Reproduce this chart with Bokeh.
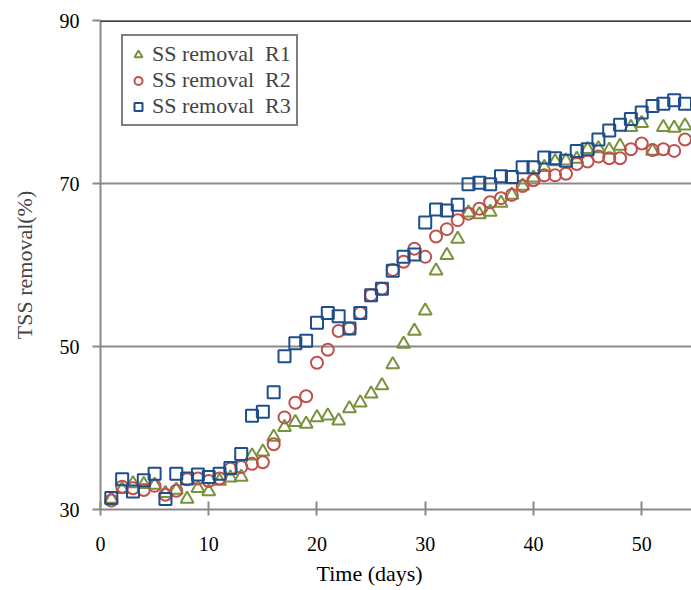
from bokeh.plotting import figure
from bokeh.models import Range1d, Legend, LegendItem, Title, Span, FixedTicker
from bokeh.embed import file_html
from bokeh.resources import INLINE

days = [1, 2, 3, 4, 5, 6, 7, 8, 9, 10, 11, 12, 13, 14, 15, 16, 17, 18, 19, 20,
        21, 22, 23, 24, 25, 26, 27, 28, 29, 30, 31, 32, 33, 34, 35, 36, 37, 38, 39, 40,
        41, 42, 43, 44, 45, 46, 47, 48, 49, 50, 51, 52, 53, 54]

r1 = [31.3, 32.5, 33.2, 33.1, 33.0, 32.0, 32.4, 31.3, 32.6, 32.2,
      33.5, 33.9, 34.0, 36.6, 37.1, 38.9, 40.1, 40.7, 40.5, 41.3,
      41.5, 40.9, 42.4, 43.1, 44.2, 45.2, 47.8, 50.3, 51.9, 54.4,
      59.3, 61.2, 63.2, 66.4, 66.2, 66.5, 67.6, 68.6, 69.7, 70.7,
      72.0, 72.7, 72.8, 73.0, 74.2, 74.3, 74.1, 74.6, 76.9, 77.4,
      74.0, 76.9, 76.8, 77.1]

r2 = [31.1, 32.8, 32.6, 32.4, 32.9, 31.8, 32.3, 33.7, 33.8, 33.5,
      33.8, 35.0, 35.2, 35.6, 35.8, 38.0, 41.3, 43.1, 43.9, 48.0,
      49.6, 51.9, 52.2, 54.1, 56.3, 57.1, 59.4, 60.4, 62.0, 61.0,
      63.5, 64.4, 65.5, 66.3, 66.9, 67.7, 68.2, 68.6, 69.7, 70.4,
      71.0, 71.0, 71.2, 72.4, 72.7, 73.3, 73.1, 73.1, 74.2, 74.9,
      74.1, 74.2, 74.0, 75.4]

r3 = [31.4, 33.7, 32.2, 33.6, 34.4, 31.3, 34.4, 33.8, 34.3, 34.0,
      34.4, 35.1, 36.8, 41.5, 42.0, 44.4, 48.8, 50.4, 50.7, 52.9,
      54.1, 53.7, 52.2, 54.1, 56.3, 57.1, 59.3, 61.0, 61.3, 65.2,
      66.8, 66.7, 67.4, 69.9, 70.1, 69.9, 70.9, 70.8, 72.0, 72.0,
      73.2, 73.1, 72.8, 74.0, 74.2, 75.4, 76.5, 77.2, 77.9, 78.7,
      79.5, 79.8, 80.2, 79.8]

series_names = ["SS removal  R1", "SS removal  R2", "SS removal  R3"]
x_ticks = [0, 10, 20, 30, 40, 50]
y_ticks = [30, 50, 70, 90]

FONT = "Liberation Serif"
GRID = "#898989"

p = figure(width=691, height=590, output_backend="svg", toolbar_location=None,
           x_range=Range1d(0, 54.6), y_range=Range1d(30, 90),
           min_border_left=100, min_border_right=0, min_border_top=20,
           min_border_bottom=79)
p.outline_line_color = None
p.background_fill_color = "white"
p.border_fill_color = "white"

p.xgrid.grid_line_color = None
p.ygrid.grid_line_color = GRID
p.ygrid.grid_line_width = 2
p.ygrid.ticker = FixedTicker(ticks=y_ticks)

p.xaxis.ticker = FixedTicker(ticks=x_ticks)
p.yaxis.ticker = FixedTicker(ticks=y_ticks)
for ax in (p.xaxis[0], p.yaxis[0]):
    ax.axis_line_color = GRID
    ax.axis_line_width = 2
    ax.major_tick_line_color = GRID
    ax.major_tick_line_width = 2
    ax.minor_tick_line_color = None
    ax.major_label_text_font = FONT
    ax.major_label_text_font_size = "20px"
    ax.major_label_text_color = "black"
p.xaxis.major_tick_in = 8
p.xaxis.major_tick_out = 6
p.xaxis.major_label_standoff = 21
p.yaxis.major_tick_in = 0
p.yaxis.major_tick_out = 8
p.yaxis.major_label_standoff = 13
p.yaxis.axis_label = "TSS removal(%)"
p.yaxis.axis_label_text_font = FONT
p.yaxis.axis_label_text_font_size = "22px"
p.yaxis.axis_label_text_font_style = "normal"
p.yaxis.axis_label_standoff = 20

p.add_layout(Span(location=90, dimension="width", line_color="black", line_width=2.5))

g1 = p.scatter(days, r1, marker="triangle", size=13, fill_color=None,
               line_color="#77933C", line_width=2)
g2 = p.scatter(days, r2, marker="circle", size=12, fill_color=None,
               line_color="#C0504D", line_width=2)
g3 = p.scatter(days, r3, marker="square", size=12, fill_color=None,
               line_color="#1F4E8C", line_width=2)

legend = Legend(items=[LegendItem(label=series_names[0], renderers=[g1]),
                       LegendItem(label=series_names[1], renderers=[g2]),
                       LegendItem(label=series_names[2], renderers=[g3])],
                location=(21, 383))
legend.border_line_color = "black"
legend.border_line_width = 2
legend.background_fill_alpha = 1
legend.label_text_font = FONT
legend.label_text_font_size = "22px"
legend.label_height = 21
legend.glyph_height = 21
legend.glyph_width = 20
legend.spacing = 0
legend.padding = 5
legend.margin = 0
legend.label_standoff = 4
p.add_layout(legend)

xlabel = Title(text="Time (days)", align="left", offset=216,
               text_font=FONT, text_font_size="22px", text_font_style="normal",
               text_color="black", standoff=10)
p.add_layout(xlabel, "below")

open("out.html", "w").write(file_html(p, INLINE))
